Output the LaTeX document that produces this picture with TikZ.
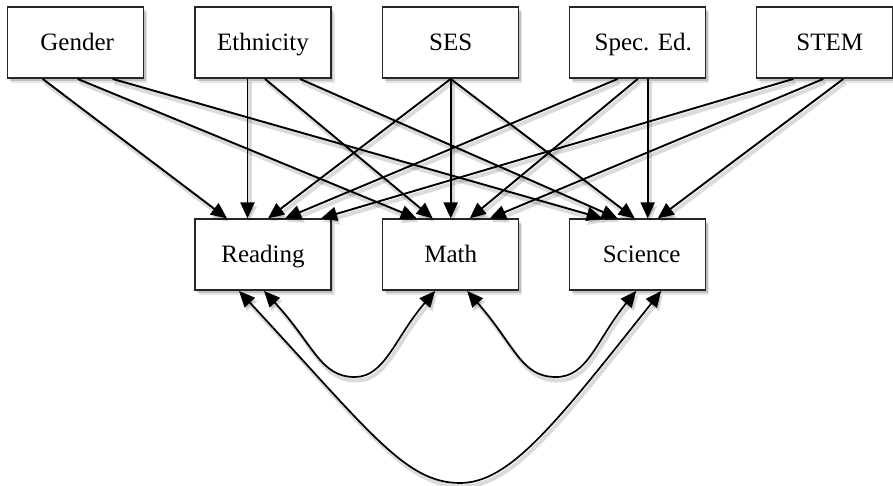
\documentclass[tikz,border=0pt]{standalone}
\usepackage{fontspec}
\setmainfont{Liberation Serif}
\usetikzlibrary{arrows.meta,shadows}
\begin{document}
\begin{tikzpicture}[x=1pt,y=-1pt,
  box/.style={draw=black!85, line width=1.5pt, fill=white,
    minimum width=136pt, minimum height=71pt, inner sep=0pt,
    text height=20pt, text depth=4pt,
    font=\fontsize{25}{30}\selectfont,
    drop shadow={shadow xshift=3.5pt,shadow yshift=-5pt,fill=black,opacity=0.10},
    drop shadow={shadow xshift=2pt,shadow yshift=-3pt,fill=black,opacity=0.16}},
  lshadow/.style={preaction={draw=black, opacity=0.14, line width=4pt,
    transform canvas={xshift=2pt,yshift=-3.5pt}}},
  arr/.style={line width=1.9pt, -{Triangle[length=16pt,width=14pt]}, lshadow},
  barr/.style={line width=1.7pt, {Triangle[length=16pt,width=14pt]}-{Triangle[length=16pt,width=14pt]}, lshadow}]
\useasboundingbox (0,0) rectangle (893,486);

\coordinate (b1) at (355,377);
\coordinate (b2) at (556,377);
\coordinate (b3) at (460,483);

\node[box] (gender) at (75.7,42.7) {\hspace*{3pt}Gender};
\node[box] (eth)    at (263,42.7)  {Ethnicity};
\node[box] (ses)    at (450.7,42.7) {SES};
\node[box] (spec)   at (637.7,42.7) {\hspace*{11pt}Spec. Ed.};
\node[box] (stem)   at (824.3,42.7) {\hspace*{11pt}STEM};
\node[box] (read)   at (263,254.7) {Reading};
\node[box] (math)   at (450.7,254.7) {Math};
\node[box] (sci)    at (637.7,254.7) {\hspace*{8pt}Science};

% Gender
\draw[arr] ([xshift=-33pt]gender.south) -- ([xshift=-36pt]read.north);
\draw[arr] ([xshift=2pt]gender.south)   -- ([xshift=-34pt]math.north);
\draw[arr] ([xshift=37pt]gender.south)  -- ([xshift=-35pt]sci.north);
% Ethnicity
\draw[arr] ([xshift=-15.5pt]eth.south)  -- ([xshift=-15.5pt]read.north);
\draw[arr] ([xshift=2pt]eth.south)      -- ([xshift=-18pt]math.north);
\draw[arr] ([xshift=37pt]eth.south)     -- ([xshift=-20pt]sci.north);
% SES
\draw[arr] (ses.south) -- ([xshift=5pt]read.north);
\draw[arr] (ses.south) -- (math.north);
\draw[arr] (ses.south) -- ([xshift=-3pt]sci.north);
% Spec. Ed.
\draw[arr] ([xshift=-20pt]spec.south)   -- ([xshift=22pt]read.north);
\draw[arr] ([xshift=0pt]spec.south)     -- ([xshift=19pt]math.north);
\draw[arr] ([xshift=10pt]spec.south)    -- ([xshift=10pt]sci.north);
% STEM
\draw[arr] ([xshift=-31pt]stem.south)   -- ([xshift=58pt]read.north);
\draw[arr] ([xshift=-1pt]stem.south)    -- ([xshift=39pt]math.north);
\draw[arr] ([xshift=19pt]stem.south)    -- ([xshift=20pt]sci.north);

% correlations
\draw[barr] ([xshift=1pt]read.south) .. controls +(50,54) and +(-35,0) .. (b1)
  .. controls +(30,0) and +(-40,46) .. ([xshift=-15.5pt]math.south);
\draw[barr] ([xshift=16.5pt]math.south) .. controls +(48,55) and +(-35,0) .. (b2)
  .. controls +(32,0) and +(-40,49) .. ([xshift=-1.5pt]sci.south);
\draw[barr] ([xshift=-24pt]read.south) .. controls +(130,140) and +(-55,0) .. (b3)
  .. controls +(50,0) and +(-105,132) .. ([xshift=23.5pt]sci.south);
\end{tikzpicture}
\end{document}
